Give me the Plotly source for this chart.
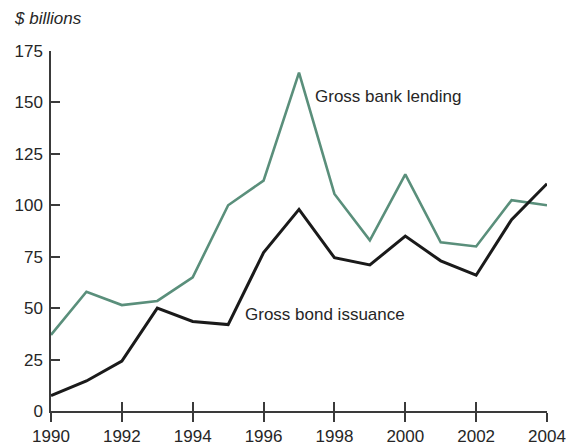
import plotly.graph_objects as go

years = list(range(1990, 2005))
bank_lending = [37, 58, 51.5, 53.5, 65, 100, 112, 164.5, 105.5, 83, 115, 82, 80, 102.5, 100]
bond_issuance = [7.5, 14.6, 24.3, 50, 43.5, 42, 77, 98, 74.5, 71, 85, 73, 66, 93, 110.5]
x_ticks = list(range(1990, 2005, 2))
y_ticks = [0, 25, 50, 75, 100, 125, 150, 175]

FONT = "Liberation Sans, Arial, sans-serif"
AXIS_COLOR = "#3a3a3a"
TEXT_COLOR = "#262626"

fig = go.Figure()
fig.add_trace(go.Scatter(x=years, y=bank_lending, mode="lines",
                         line=dict(color="#5a8f7b", width=2.6), showlegend=False,
                         hoverinfo="skip"))
fig.add_trace(go.Scatter(x=years, y=bond_issuance, mode="lines",
                         line=dict(color="#1a1a1a", width=3), showlegend=False,
                         hoverinfo="skip"))
# invisible trace to carry the overlaid x axis (inside ticks)
fig.add_trace(go.Scatter(x=[years[0]], y=[0], xaxis="x2", mode="lines",
                         line=dict(width=0), showlegend=False, hoverinfo="skip"))

# the page body adds an 8px offset, so the figure is 8px smaller
fig.update_layout(
    width=566, height=438,
    margin=dict(l=43, r=27, t=43, b=35, autoexpand=False),
    paper_bgcolor="white", plot_bgcolor="white",
    font=dict(family=FONT, size=17, color=TEXT_COLOR),
    xaxis=dict(range=[1990, 2004], tickvals=x_ticks, ticks="outside", ticklen=9,
               tickwidth=1.5, tickcolor=AXIS_COLOR, showline=True, linecolor=AXIS_COLOR,
               linewidth=1.5, showgrid=False, zeroline=False, automargin=False,
               tickfont=dict(size=17, color=TEXT_COLOR)),
    xaxis2=dict(range=[1990, 2004], tickvals=x_ticks, ticks="inside", ticklen=9,
                tickwidth=1.5, tickcolor=AXIS_COLOR, overlaying="x", side="bottom",
                showticklabels=False, showline=False, showgrid=False, zeroline=False,
                automargin=False),
    yaxis=dict(range=[0, 175], tickvals=y_ticks, ticks="inside", ticklen=9,
               tickwidth=1.5, tickcolor=AXIS_COLOR, showline=True, linecolor=AXIS_COLOR,
               linewidth=1.5, showgrid=False, zeroline=False, ticklabelstandoff=3,
               automargin=False, tickfont=dict(size=17, color=TEXT_COLOR)),
    annotations=[
        dict(text="Gross bank lending", x=1997.39, y=152.9, xref="x", yref="y",
             xanchor="left", yanchor="middle", showarrow=False,
             font=dict(size=17, color=TEXT_COLOR)),
        dict(text="Gross bond issuance", x=1995.42, y=47, xref="x", yref="y",
             xanchor="left", yanchor="middle", showarrow=False,
             font=dict(size=17, color=TEXT_COLOR)),
        dict(text="<i>$ billions</i>", x=-0.076, y=1.119, xref="paper", yref="paper",
             xanchor="left", yanchor="top", showarrow=False, borderpad=0,
             font=dict(size=17, color=TEXT_COLOR)),
    ],
)

fig.write_html("out.html")
